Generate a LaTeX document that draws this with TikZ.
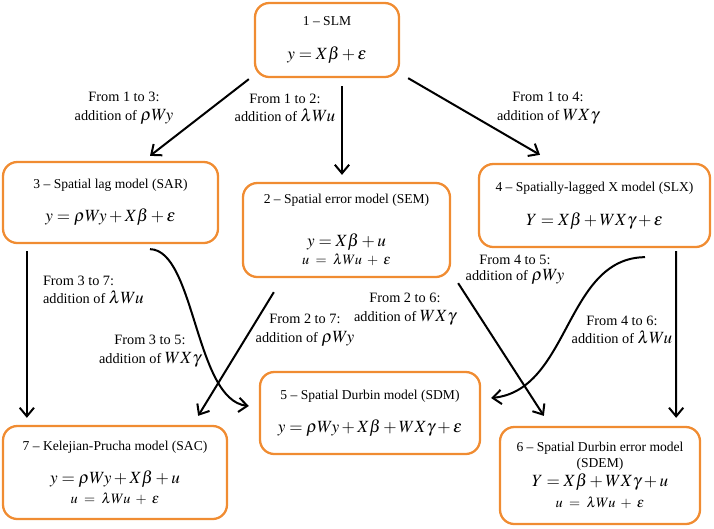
\documentclass[tikz,border=0pt]{standalone}
\usepackage{mathptmx}
\usepackage{fontspec}
\setmainfont{Liberation Serif}
\usetikzlibrary{positioning, arrows.meta}
\definecolor{boxorange}{RGB}{240,140,50}
\newcommand\eqbig[1]{{\fontsize{12}{14}\selectfont$#1$}}
\newcommand\eqsmall[1]{{\fontsize{10}{12}\selectfont$#1$}}
\newcommand\term[1]{{\fontsize{12}{14}\selectfont$#1$}}

\begin{document}
\begin{tikzpicture}
	[x=0.7pt, y=-0.7pt,
	model/.style={draw=boxorange, line width=1.6pt, rounded corners=10pt, align=center, inner sep=2pt, font=\fontsize{9.5}{11}\selectfont},
	link/.style={-{Straight Barb[length=6pt, width=10pt, line width=1.4pt]}, line width=1.4pt},
	change/.style={align=center, font=\fontsize{10}{12}\selectfont}]
	\useasboundingbox (0,0) rectangle (714,528);
	\node[model, minimum width=100.8pt, minimum height=51.8pt] (m1) at (327,40)
		{1 -- SLM\\[13pt] \eqbig{y = X\beta + \varepsilon}};
	\node[model, minimum width=150.5pt, minimum height=56.7pt] (m3) at (110.5,202.5)
		{3 -- Spatial lag model (SAR)\\[12pt] \eqbig{y = \rho Wy + X\beta + \varepsilon}};
	\node[model, minimum width=144.9pt, minimum height=65.8pt] (m2) at (346.5,230)
		{2 -- Spatial error model (SEM)\\[19pt] \eqbig{y = X\beta + u}\\[1.5pt] \eqsmall{u \;=\; \lambda Wu \;+\; \varepsilon}};
	\node[model, minimum width=161.7pt, minimum height=58.1pt] (m4) at (594.5,205.5)
		{4 -- Spatially-lagged X model (SLX)\\[13pt] \eqbig{Y = X\beta + WX\gamma + \varepsilon}};
	\node[model, minimum width=154pt, minimum height=57.4pt] (m5) at (370,413)
		{5 -- Spatial Durbin model (SDM)\\[12pt] \eqbig{y = \rho Wy + X\beta + WX\gamma + \varepsilon}};
	\node[model, minimum width=156.8pt, minimum height=65.1pt] (m7) at (115,472.5)
		{7 -- Kelejian-Prucha model (SAC)\\[12pt] \eqbig{y = \rho Wy + X\beta + u}\\[3pt] \eqsmall{u \;=\; \lambda Wu \;+\; \varepsilon}};
	\node[model, minimum width=140pt, minimum height=67.9pt] (m6) at (600,475.5)
		{6 -- Spatial Durbin error model\\(SDEM)\\[2.5pt] \eqbig{Y = X\beta + WX\gamma + u}\\[3.5pt] \eqsmall{u \;=\; \lambda Wu \;+\; \varepsilon}};

	\node[change] (c13) at (124,108) {From 1 to 3:\\[1pt] addition of \term{\rho Wy}};
	\node[change] (c12) at (285,108) {From 1 to 2:\\[1pt] addition of \term{\lambda Wu}};
	\node[change] (c14) at (548,108) {From 1 to 4:\\[1pt] addition of \term{WX\gamma}};
	\node[change, align=left, anchor=west] (c37) at (38,290) {From 3 to 7:\\[1pt] addition of \term{\lambda Wu}};
	\node[change] (c35) at (150,351) {From 3 to 5:\\[1pt] addition of \term{WX\gamma}};
	\node[change] (c27) at (305,330) {From 2 to 7:\\[1pt] addition of \term{\rho Wy}};
	\node[change] (c26) at (405,309) {From 2 to 6:\\[1pt] addition of \term{WX\gamma}};
	\node[change] (c45) at (515,270) {From 4 to 5:\\[-1pt] addition of \term{\rho Wy}};
	\node[change] (c46) at (622,330) {From 4 to 6:\\[1pt] addition of \term{\lambda Wu}};

	\draw[link] ([shift={(-5,1)}]m1.south west) -- ([shift={(39.5,-5)}]m3.north);
	\draw[link] ([shift={(15,8)}]m1.south) -- ([shift={(-4.5,-7)}]m2.north);
	\draw[link] ([shift={(8,0)}]m1.south east) -- ([shift={(-54.5,-8)}]m4.north);
	\draw[link] ([shift={(25,7)}]m3.south west) -- ([shift={(25,-7)}]m7.north west);
	\draw[link] ([shift={(39.5,5)}]m3.south) .. controls (195,250) and (195,400) .. ([shift={(-10,-7)}]m5.west);
	\draw[link] ([shift={(32,14)}]m2.south west) -- ([shift={(-30,-9)}]m7.north east);
	\draw[link] ([shift={(7,5)}]m2.south east) -- ([shift={(45,-10)}]m6.north west);
	\draw[link] ([shift={(50.5,9)}]m4.south) .. controls (565,258) and (570,390) .. ([shift={(10,-15)}]m5.east);
	\draw[link] ([shift={(-35,3)}]m4.south east) -- ([shift={(-25,-8)}]m6.north east);
\end{tikzpicture}
\end{document}
